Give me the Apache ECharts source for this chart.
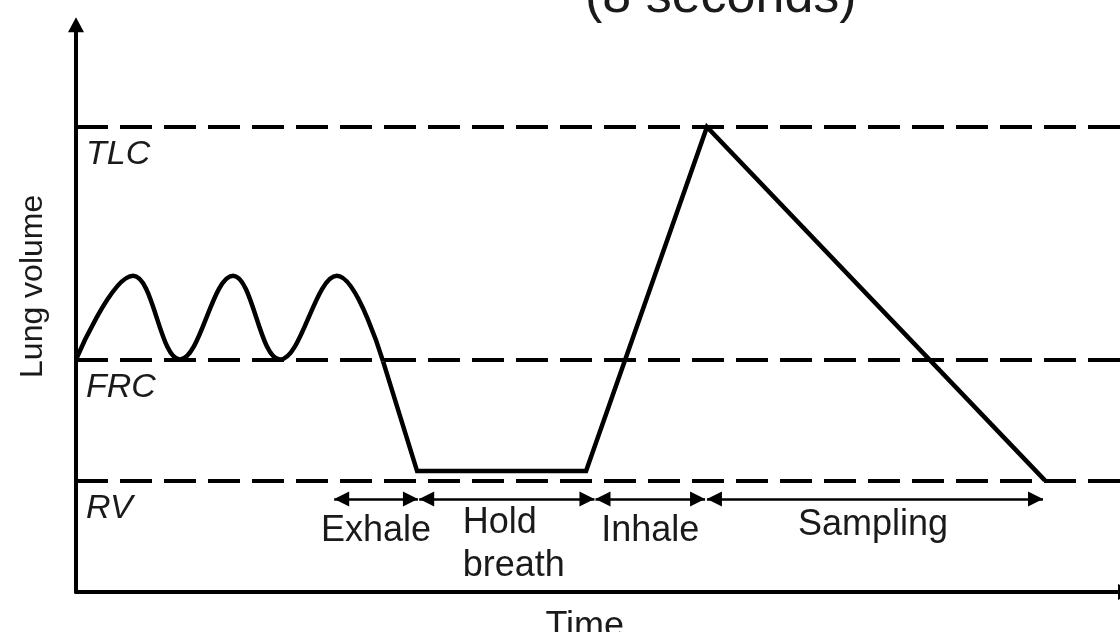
<!DOCTYPE html>
<html>
<head>
<meta charset="utf-8">
<title>Lung volume</title>
<script src="https://cdn.jsdelivr.net/npm/echarts@6/dist/echarts.min.js"></script>
<style>
html, body { margin: 0; padding: 0; background: #fff; }
#chart { width: 1120px; height: 632px; }
</style>
</head>
<body>
<div id="chart"></div>
<script>
// tidal breathing before the manoeuvre: peaks and troughs (time in s, volume in L)
var tidalTime   = [0, 2.72, 4.95, 7.48, 9.72, 12.43, 14.63];
var tidalVolume = [2.5, 3.4, 2.5, 3.4, 2.5, 3.4, 2.48];

// exhale to RV, hold, inhale to TLC, then sampling
var manoeuvreTime   = [14.63, 16.25, 24.3, 30.06, 46.16];
var manoeuvreVolume = [2.48, 1.3, 1.3, 5.0, 1.2];

// reference volumes
var levelNames  = ['TLC', 'FRC', 'RV'];
var levelValues = [5.0, 2.5, 1.2];

// phases shown under the curve
var phaseNames = ['Exhale', 'Hold\nbreath', 'Inhale', 'Sampling'];
var phaseStart = [12.3, 16.35, 24.75, 30.06];
var phaseEnd   = [16.29, 24.7, 29.97, 46.07];
var phaseLevel = 1.0;

var FONT = '"Liberation Sans", Arial, sans-serif';
var INK = '#1a1a1a';

function pairs(xs, ys) {
    return xs.map(function (x, i) { return [x, ys[i]]; });
}

var chart = echarts.init(document.getElementById('chart'));

var levelLabels = levelValues.map(function (v, i) {
    return { value: [0, v], name: levelNames[i] };
});

var phaseLabels = phaseNames.map(function (name, i) {
    var item = { value: [(phaseStart[i] + phaseEnd[i]) / 2, phaseLevel], name: name };
    if (i === 1) {
        //两行文字左对齐
        item.label = { align: 'left', offset: [-44, 46] };
    } else if (i === 3) {
        item.label = { offset: [-2, 26] };
    }
    return item;
});

var phaseArrows = phaseStart.map(function (s, i) {
    return [{ coord: [s, phaseLevel] }, { coord: [phaseEnd[i], phaseLevel] }];
});

var option = {
    animation: false,
    backgroundColor: '#fff',
    title: {
        text: '(8 seconds)',
        left: 580,
        top: -33,
        textStyle: { fontFamily: FONT, fontSize: 52, fontWeight: 'normal', color: INK }
    },
    grid: {
        left: 76,
        right: -5.5,
        top: 24.7,
        bottom: 40,
        outerBoundsMode: 'none'
    },
    xAxis: {
        type: 'value',
        min: 0,
        max: 50,
        name: 'Time',
        nameLocation: 'middle',
        nameGap: 17,
        nameTextStyle: { fontFamily: FONT, fontSize: 36, color: INK, padding: [0, 32, 0, 0] },
        axisLine: {
            lineStyle: { color: '#000', width: 4 },
            symbol: ['none', 'triangle'],
            symbolSize: [16, 15]
        },
        axisTick: { show: false },
        axisLabel: { show: false },
        splitLine: { show: false }
    },
    yAxis: {
        type: 'value',
        min: 0,
        max: 6.1,
        name: 'Lung volume',
        nameLocation: 'middle',
        nameGap: 27,
        nameTextStyle: { fontFamily: FONT, fontSize: 32, color: INK, padding: [0, 0, 0, 44] },
        axisLine: {
            lineStyle: { color: '#000', width: 4 },
            symbol: ['none', 'triangle'],
            symbolSize: [16, 15]
        },
        axisTick: { show: false },
        axisLabel: { show: false },
        splitLine: { show: false }
    },
    series: [
        {
            name: 'levels',
            type: 'line',
            data: [],
            silent: true,
            markLine: {
                silent: true,
                symbol: 'none',
                label: { show: false },
                lineStyle: { color: '#000', width: 4, type: [32, 12] },
                data: levelValues.map(function (v) { return { yAxis: v }; })
            }
        },
        {
            name: 'phases',
            type: 'line',
            data: [],
            silent: true,
            markLine: {
                silent: true,
                symbol: ['triangle', 'triangle'],
                symbolSize: [15, 15],
                symbolOffset: [[0, 7.5], [0, 7.5]],
                label: { show: false },
                lineStyle: { color: '#000', width: 2.7, type: 'solid' },
                data: phaseArrows
            }
        },
        {
            name: 'tidal',
            type: 'line',
            data: pairs(tidalTime, tidalVolume),
            smooth: 0.4,
            showSymbol: false,
            silent: true,
            lineStyle: { color: '#000', width: 4.5 },
            z: 5
        },
        {
            name: 'manoeuvre',
            type: 'line',
            data: pairs(manoeuvreTime, manoeuvreVolume),
            showSymbol: false,
            silent: true,
            lineStyle: { color: '#000', width: 4.5, join: 'miter' },
            z: 5
        },
        {
            name: 'levelLabels',
            type: 'scatter',
            data: levelLabels,
            symbolSize: 0,
            silent: true,
            itemStyle: { opacity: 1 },
            label: {
                show: true,
                position: [0, 0],
                offset: [10, 28],
                align: 'left',
                verticalAlign: 'middle',
                formatter: '{b}',
                fontFamily: FONT,
                fontStyle: 'italic',
                fontSize: 34,
                color: INK
            }
        },
        {
            name: 'phaseLabels',
            type: 'scatter',
            data: phaseLabels,
            symbolSize: 0,
            silent: true,
            itemStyle: { opacity: 1 },
            label: {
                show: true,
                position: [0, 0],
                offset: [0, 32],
                align: 'center',
                verticalAlign: 'middle',
                lineHeight: 43,
                formatter: '{b}',
                fontFamily: FONT,
                fontSize: 36,
                color: INK
            }
        }
    ]
};

chart.setOption(option);
</script>
</body>
</html>
